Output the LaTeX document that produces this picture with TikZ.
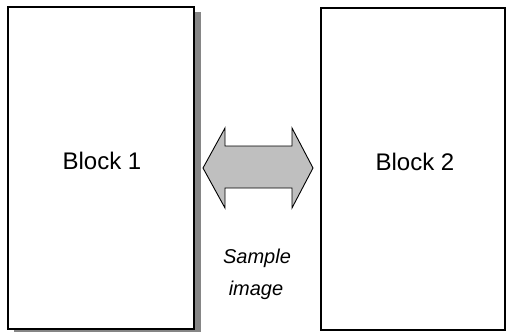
\documentclass[tikz,border=0pt]{standalone}
\usepackage{fontspec}
\setmainfont{Liberation Sans}
\usetikzlibrary{positioning}

\begin{document}
\begin{tikzpicture}[x=1pt,y=-1pt,
		blockbox/.style={draw=black,line width=1.6pt,fill=white,inner sep=0pt},
		blocktext/.style={font=\fontsize{24}{28}\selectfont,inner sep=0pt},
		captext/.style={font=\fontsize{20}{24}\selectfont\itshape,inner sep=0pt,anchor=base}]
		\useasboundingbox (0,0) rectangle (507,332);
		\fill[gray!95!white] (14,12) rectangle (201,332);
		\node[blockbox,minimum width=186pt,minimum height=322pt] (block1) at (101,168) {};
		\node[blockbox,minimum width=184pt,minimum height=322pt] (block2) at (413,169) {};
		\node[blocktext] (name1) at (102,161) {Block 1};
		\node[blocktext] (name2) at (415,162) {Block 2};
		\draw[fill=gray!50,line width=0.9pt,line join=miter] (203,168) -- (225,128) -- (225,146) -- (292,146) -- (292,128)
			-- (313,168) -- (292,208) -- (292,188) -- (225,188) -- (225,208) -- cycle;
		\node[captext] (sample) at (257,263) {Sample};
		\node[captext] (image) at (256,295) {image};
	\end{tikzpicture}
\end{document}
